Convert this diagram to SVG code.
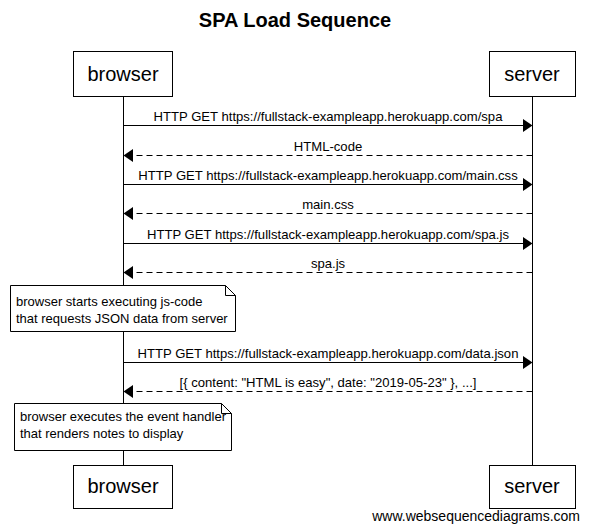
<svg xmlns="http://www.w3.org/2000/svg" width="590" height="532" viewBox="0 0 590 532">
<defs>
<style>
text{font-family:"Liberation Sans",Arial,sans-serif;fill:#000}
.title{font-size:20px;font-weight:bold;text-anchor:middle}
.actor{font-size:20px;text-anchor:middle}
.msg{font-size:13.1px;text-anchor:middle}
.note{font-size:13px}
.box{fill:#fff;stroke:#000;stroke-width:1}
.life{stroke:#000;stroke-width:1}
.solid{stroke:#000;stroke-width:1;fill:none}
.dash{stroke:#000;stroke-width:1;fill:none;stroke-dasharray:6,4}
.head{fill:#000}
</style>
</defs>
<rect width="590" height="532" fill="#fff"/>
<text class="title" x="295" y="27">SPA Load Sequence</text>
<g id="lifelines">
<line class="life" x1="123.5" y1="97" x2="123.5" y2="465"/>
<line class="life" x1="532.5" y1="97" x2="532.5" y2="465"/>
</g>
<g id="browser">
<rect class="box" x="73.5" y="51.5" width="99" height="45"/>
<text class="actor" x="123" y="81">browser</text>
</g>
<g id="server">
<rect class="box" x="489.5" y="51.5" width="86" height="45"/>
<text class="actor" x="532" y="81">server</text>
</g>
<g id="browser-bottom">
<rect class="box" x="73.5" y="465.5" width="99" height="43"/>
<text class="actor" x="123" y="493">browser</text>
</g>
<g id="server-bottom">
<rect class="box" x="489.5" y="465.5" width="86" height="43"/>
<text class="actor" x="532" y="493">server</text>
</g>
<g id="connectors">
<line class="solid" x1="123.5" y1="125.5" x2="524" y2="125.5"/>
<path class="head" d="M532.5,125.5 L523,119 L523,132 Z"/>
<text class="msg" x="328" y="121">HTTP GET https://fullstack-exampleapp.herokuapp.com/spa</text>

<line class="dash" x1="532.5" y1="155.5" x2="132" y2="155.5"/>
<path class="head" d="M123.5,155.5 L133,149 L133,162 Z"/>
<text class="msg" x="328" y="151">HTML-code</text>

<line class="solid" x1="123.5" y1="184.5" x2="524" y2="184.5"/>
<path class="head" d="M532.5,184.5 L523,178 L523,191 Z"/>
<text class="msg" x="328" y="180">HTTP GET https://fullstack-exampleapp.herokuapp.com/main.css</text>

<line class="dash" x1="532.5" y1="213.5" x2="132" y2="213.5"/>
<path class="head" d="M123.5,213.5 L133,207 L133,220 Z"/>
<text class="msg" x="328" y="209">main.css</text>

<line class="solid" x1="123.5" y1="243.5" x2="524" y2="243.5"/>
<path class="head" d="M532.5,243.5 L523,237 L523,250 Z"/>
<text class="msg" x="328" y="239">HTTP GET https://fullstack-exampleapp.herokuapp.com/spa.js</text>

<line class="dash" x1="532.5" y1="272.5" x2="132" y2="272.5"/>
<path class="head" d="M123.5,272.5 L133,266 L133,279 Z"/>
<text class="msg" x="328" y="268">spa.js</text>

<line class="solid" x1="123.5" y1="362.5" x2="524" y2="362.5"/>
<path class="head" d="M532.5,362.5 L523,356 L523,369 Z"/>
<text class="msg" x="328" y="358">HTTP GET https://fullstack-exampleapp.herokuapp.com/data.json</text>

<line class="dash" x1="532.5" y1="391.5" x2="132" y2="391.5"/>
<path class="head" d="M123.5,391.5 L133,385 L133,398 Z"/>
<text class="msg" x="328" y="387">[{ content: "HTML is easy", date: "2019-05-23" }, ...]</text>
</g>
<g id="note1">
<path class="box" d="M10.5,285.5 H225.5 L235.5,295.5 V331.5 H10.5 Z"/>
<path class="solid" d="M225.5,285.5 V295.5 H235.5"/>
<text class="note" x="16" y="306">browser starts executing js-code</text>
<text class="note" x="16" y="323">that requests JSON data from server</text>
</g>
<g id="note2">
<path class="box" d="M14.5,403.5 H221.5 L231.5,413.5 V450.5 H14.5 Z"/>
<path class="solid" d="M221.5,403.5 V413.5 H231.5"/>
<text class="note" x="20" y="421">browser executes the event handler</text>
<text class="note" x="20" y="438">that renders notes to display</text>
</g>
<text x="580" y="521" style="font-size:14px;text-anchor:end">www.websequencediagrams.com</text>
</svg>
